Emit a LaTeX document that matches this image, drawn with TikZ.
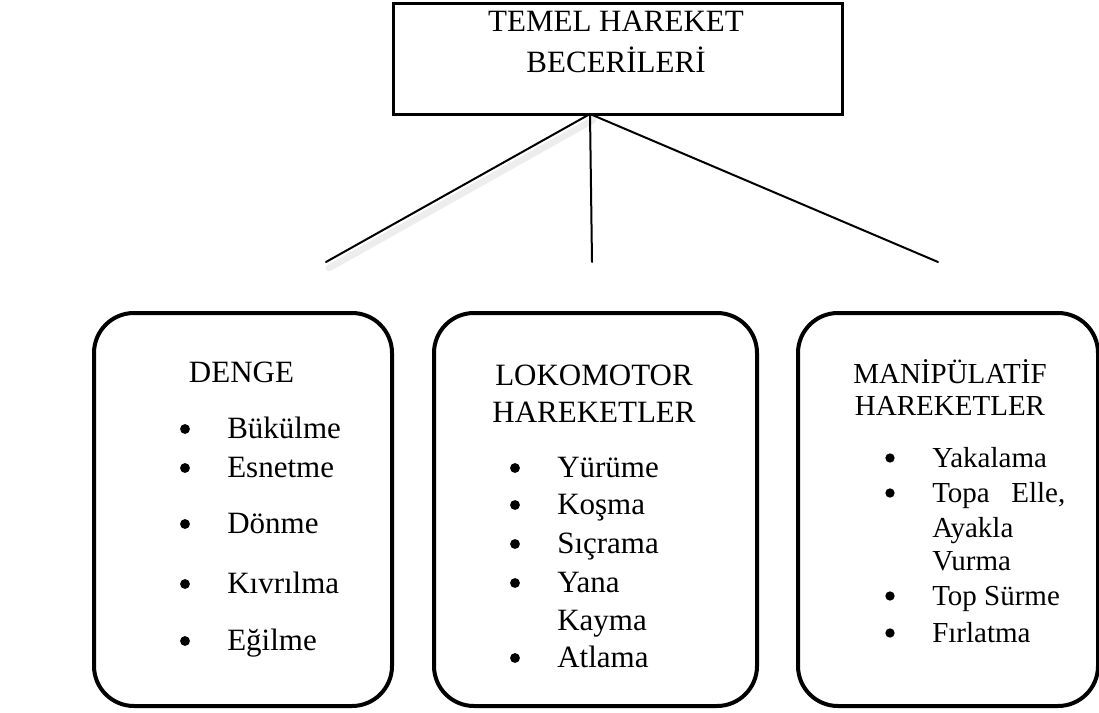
\documentclass[tikz,border=0pt]{standalone}
\usepackage{fontspec}
\setmainfont{Liberation Serif}
\usetikzlibrary{calc}
\begin{document}
\begin{tikzpicture}[x=0.75pt,y=-0.75pt,
  topbox/.style={draw, line width=2.25pt, inner sep=0pt, anchor=north west,
    minimum width=336.75pt, minimum height=83.25pt},
  catbox/.style={draw, line width=3pt, rounded corners=30pt, inner sep=0pt,
    anchor=north west, minimum height=294.75pt},
  link/.style={line width=1.5pt, line cap=round},
  shade/.style={line width=5pt, draw=black!7, line cap=round},
  lbl/.style={font=\fontsize{23.25pt}{28pt}\selectfont, inner sep=0pt},
  lbls/.style={font=\fontsize{21.75pt}{26pt}\selectfont, inner sep=0pt},
  item/.style={lbl, anchor=base west},
  items/.style={lbls, anchor=base west},
  bul/.style={fill=black}
]
\useasboundingbox (0,0) rectangle (1099,713);

% top box
\node[topbox] (top) at (392,2) {};
\node[lbl, anchor=base] (t1) at (616,32) {TEMEL HAREKET};
\node[lbl, anchor=base] (t2) at (616,73) {BECERİLERİ};

% connectors
\coordinate (apex) at (590,114);
\coordinate (e1) at (326,262);
\coordinate (e2) at (592,262);
\coordinate (e3) at (938,262);
\draw[shade] ($(apex)+(3,6)$) -- ($(e1)+(3,6)$);
\draw[link] (apex) -- (e1);
\draw[link] (apex) -- (e2);
\draw[link] (apex) -- (e3);

% category boxes
\node[catbox, minimum width=223.5pt] (denge) at (92,311) {};
\node[catbox, minimum width=242.25pt] (loko) at (432,311) {};
\node[catbox, minimum width=225pt] (mani) at (796,311) {};

% DENGE
\node[lbl, anchor=base] (d0) at (241.5,382) {DENGE};
\node[item] (d1) at (227,438) {Bükülme};
\node[item] (d2) at (227,477) {Esnetme};
\node[item] (d3) at (227,533) {Dönme};
\node[item] (d4) at (227,593) {Kıvrılma};
\node[item] (d5) at (227,650) {Eğilme};
\foreach \y in {438,477,533,593,650} \fill[bul] (185,\y-9) circle (3.7pt);

% LOKOMOTOR
\node[lbl, anchor=base] (l0) at (594,385) {LOKOMOTOR};
\node[lbl, anchor=base] (l00) at (594,422) {HAREKETLER};
\node[item] (l1) at (557,477) {Yürüme};
\node[item] (l2) at (557,514) {Koşma};
\node[item] (l3) at (557,553) {Sıçrama};
\node[item] (l4) at (557,592) {Yana};
\node[item] (l5) at (557,630) {Kayma};
\node[item] (l6) at (557,667) {Atlama};
\foreach \y in {477,514,553,592,667} \fill[bul] (515,\y-9) circle (3.7pt);

% MANIPULATIF
\node[lbls, anchor=base] (m0) at (950,383) {MANİPÜLATİF};
\node[lbls, anchor=base] (m00) at (950,415) {HAREKETLER};
\node[items] (m1) at (932,467) {Yakalama};
\node[items] (m2) at (932,502) {\makebox[99.75pt][s]{Topa\hfill Elle,}};
\node[items] (m3) at (932,537) {Ayakla};
\node[items] (m4) at (932,570) {Vurma};
\node[items] (m5) at (932,605) {Top Sürme};
\node[items] (m6) at (932,642) {Fırlatma};
\foreach \y in {467,502,605,642} \fill[bul] (890,\y-9) circle (3.5pt);
\end{tikzpicture}
\end{document}
